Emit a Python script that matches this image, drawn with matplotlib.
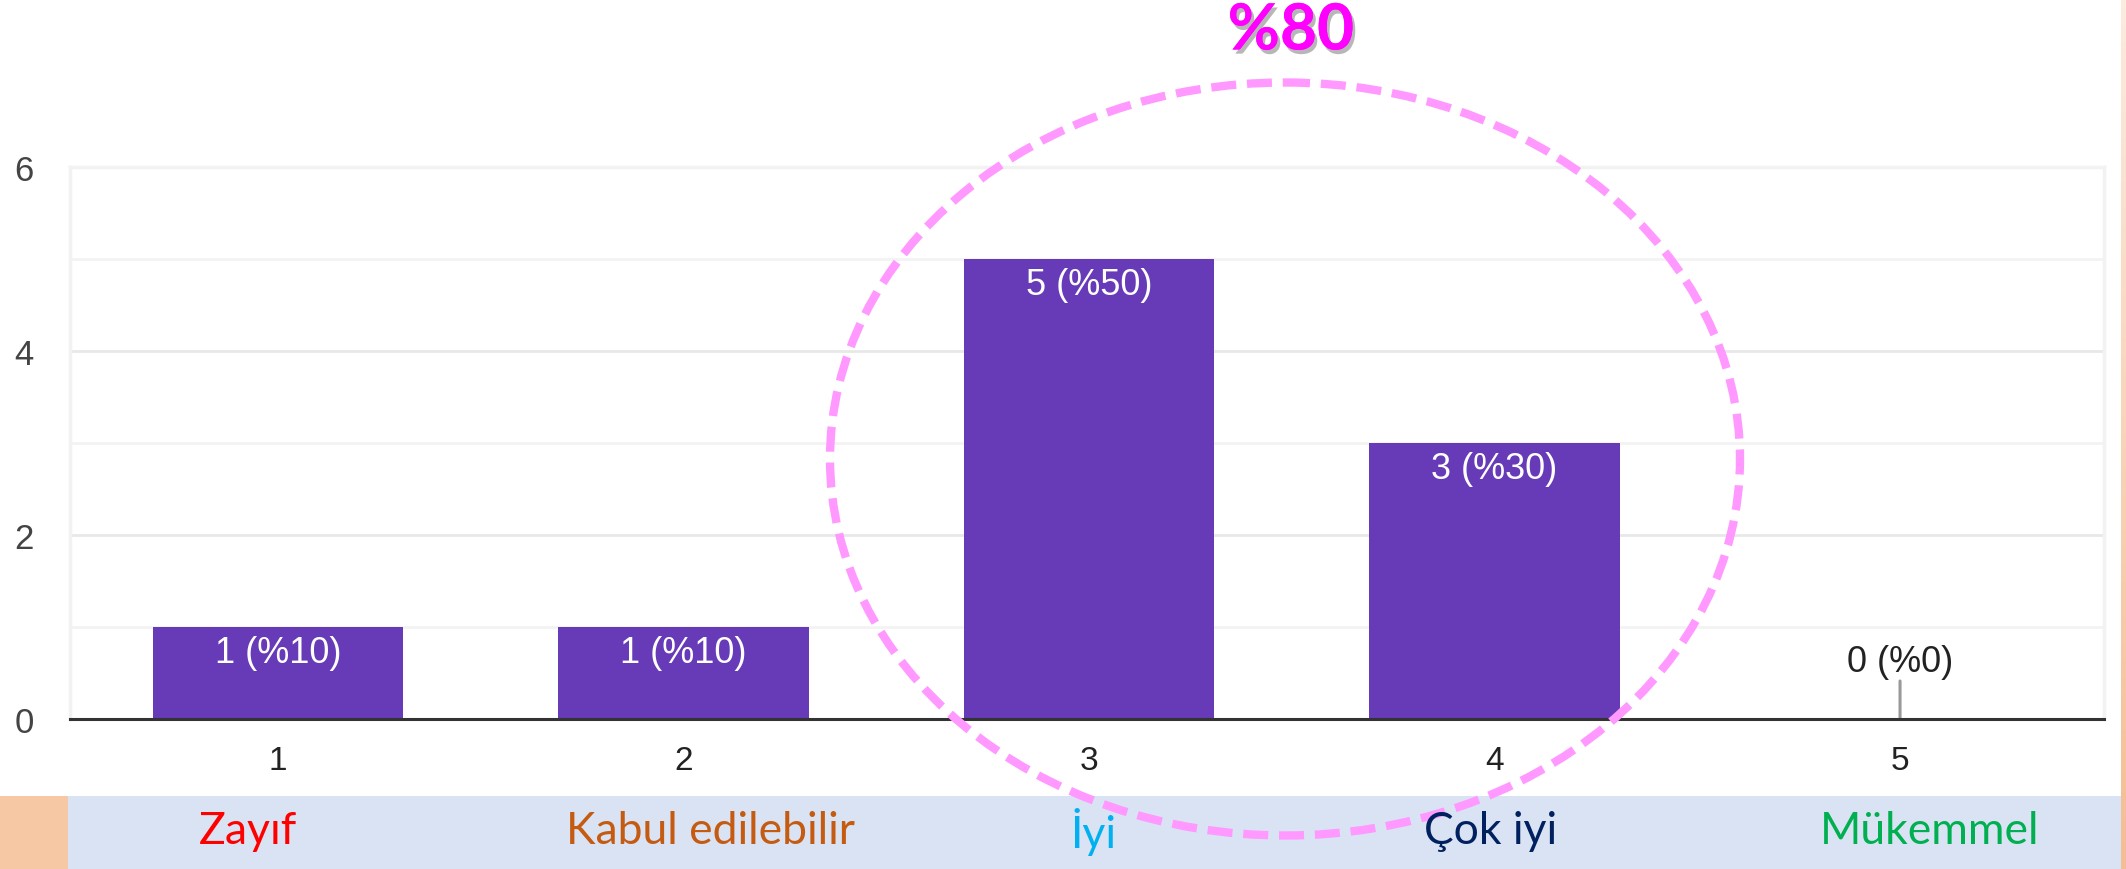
import numpy as np
import matplotlib
matplotlib.use("Agg")
import matplotlib.pyplot as plt
from matplotlib.patches import Rectangle, Ellipse
import matplotlib.patheffects as pe

# Data
categories = ["1", "2", "3", "4", "5"]
counts = [1, 1, 5, 3, 0]
percents = [10, 10, 50, 30, 0]
rating_names = ["Zayıf", "Kabul edilebilir", "İyi", "Çok iyi", "Mükemmel"]
rating_colors = ["#ff0000", "#c55a11", "#00b0f0", "#002060", "#00b050"]
highlight_text = "%80"

W, H = 2126, 870
fig = plt.figure(figsize=(W / 100, H / 100), dpi=100)
fig.patch.set_facecolor("white")

# ----------------------------------
# Bar chart area (pixel layout of the reference)
# ----------------------------------
left_px, right_px, top_px, base_px = 70, 2104, 168, 720
ax = fig.add_axes([left_px / W, (H - base_px) / H,
                   (right_px - left_px) / W, (base_px - top_px) / H])
ax.set_facecolor("white")

x = np.arange(len(categories))
ax.bar(x, counts, width=0.617, color="#673ab7", zorder=3)

ax.set_xlim(-0.513, 4.503)
ax.set_ylim(0, 6)
ax.set_yticks([0, 2, 4, 6])
ax.set_yticks([1, 3, 5], minor=True)
ax.set_xticks(x)
ax.set_xticklabels(categories)

ax.grid(axis="y", which="major", color="#e8e8e8", lw=2, zorder=0)
ax.grid(axis="y", which="minor", color="#f3f3f3", lw=2, zorder=0)
ax.tick_params(axis="y", which="both", length=0, pad=26, labelsize=25,
               labelcolor="#444444")
ax.tick_params(axis="x", length=0, pad=19, labelsize=24, labelcolor="#222222")
for lab in ax.get_xticklabels() + ax.get_yticklabels():
    lab.set_family("Liberation Sans")

for side in ["top", "right", "left"]:
    ax.spines[side].set_color("#f2f2f2")
    ax.spines[side].set_linewidth(2.5)
ax.spines["bottom"].set_color("#333333")
ax.spines["bottom"].set_linewidth(2.2)
ax.spines["bottom"].set_zorder(4)

# value labels
for xi, c, p in zip(x, counts, percents):
    label = f"{c} (%{p})"
    if c > 0:
        ax.annotate(label, (xi, c), xytext=(0, -8), textcoords="offset pixels",
                    ha="center", va="top", fontsize=26, color="white",
                    family="Liberation Sans", zorder=5)
    else:
        ax.annotate(label, (xi, c), xytext=(0, 57), textcoords="offset pixels",
                    ha="center", va="center", fontsize=26, color="#222222",
                    family="Liberation Sans", zorder=5)
        ax.annotate("", (xi, c), xytext=(xi, c + 38 / 92),
                    arrowprops=dict(arrowstyle="-", color="#999999", lw=2.2,
                                    shrinkA=0, shrinkB=0), zorder=4)

# ----------------------------------
# Overlay: bottom band, ellipse, highlight text
# ----------------------------------
ov = fig.add_axes([0, 0, 1, 1], zorder=10)
ov.set_xlim(0, W)
ov.set_ylim(H, 0)
ov.axis("off")
ov.patch.set_visible(False)

ov.add_patch(Rectangle((68, 797), 2053, 73, color="#dae3f3", lw=0))
ov.add_patch(Rectangle((0, 797), 68, 73, color="#f6c8a4", lw=0))
grad = np.linspace(0, 1, 100).reshape(-1, 1)
ov.imshow(grad, extent=[2121, 2126, 870, 0], aspect="auto",
          cmap=matplotlib.colors.LinearSegmentedColormap.from_list(
              "peach", ["#fcebdf", "#f4bd95"]))
ov.set_xlim(0, W)
ov.set_ylim(H, 0)

name_x = [248, 711, 1094, 1491, 1930]
for nx, name, col in zip(name_x, rating_names, rating_colors):
    ov.text(nx, 832, name, ha="center", va="center", fontsize=32,
            color=col, family="Lato")

ov.add_patch(Ellipse((1285, 460), 910, 753, fill=False, edgecolor="#ff99ff",
                     lw=6, linestyle=(0, (3, 1.3))))

ov.text(1291, 32, highlight_text, ha="center", va="center", fontsize=46,
        fontweight="bold", color="#ff00ff", family="Lato",
        path_effects=[pe.withSimplePatchShadow(offset=(2, -3),
                                               shadow_rgbFace="#888888",
                                               alpha=0.6),
                      pe.Normal()])

fig.savefig("out.png", dpi=100)
